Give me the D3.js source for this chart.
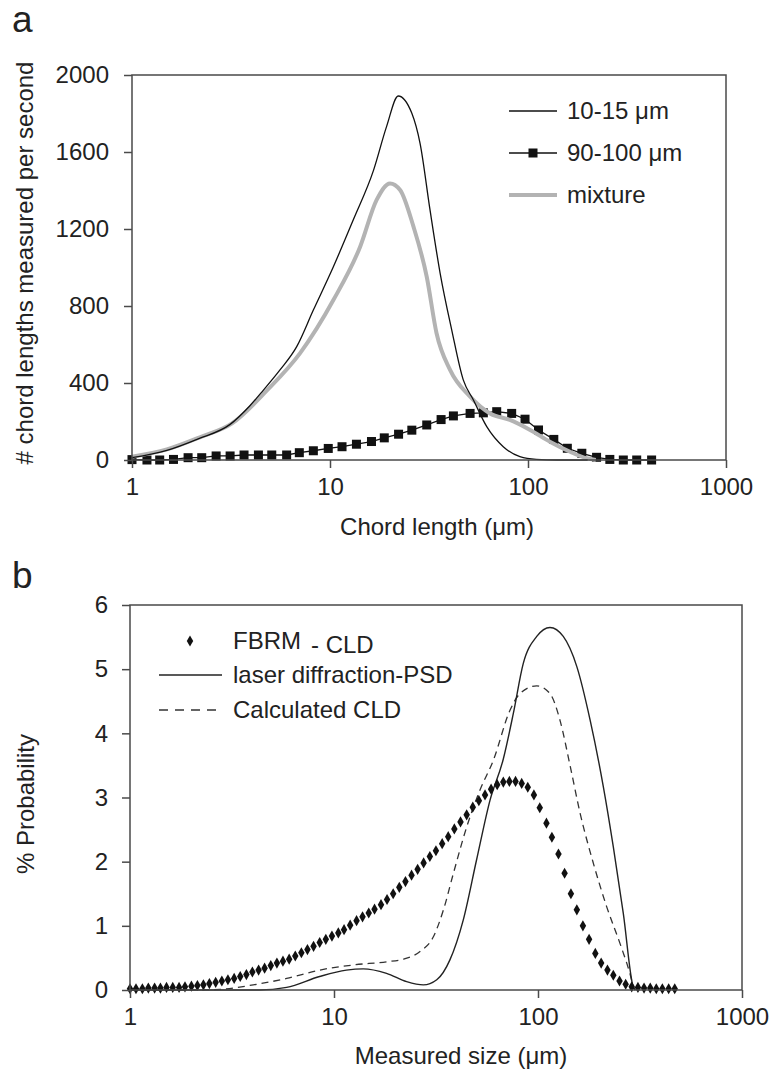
<!DOCTYPE html>
<html>
<head>
<meta charset="utf-8">
<script src="https://cdn.jsdelivr.net/npm/d3@7"></script>
<style>
  html, body { margin: 0; padding: 0; background: #fff; }
  svg { display: block; }
  text { font-family: "Liberation Sans", Arial, sans-serif; fill: #222; }
</style>
</head>
<body>
<svg id="chart" width="771" height="1070"></svg>
<script>
// ---------- Panel a data ----------
const xTicks = [1, 10, 100, 1000];
const aYTicks = [0, 400, 800, 1200, 1600, 2000];
const bYTicks = [0, 1, 2, 3, 4, 5, 6];

// 10-15 µm (thin black line)
const a1015X = [1.0, 1.5, 2.16, 3.13, 3.94, 4.6, 5.59, 6.79, 8.24, 10.4, 13.1, 16.6, 19.3, 22.1, 25.9, 28.5, 32, 36, 41.2, 47.1, 53, 61.9, 75, 91, 110, 140, 200];
const a1015Y = [12, 50, 110, 185, 282, 362, 468, 589, 779, 1004, 1247, 1506, 1732, 1891, 1801, 1645, 1299, 970, 675, 416, 312, 173, 69, 17, 3, 0, 0];

// 90-100 µm (squares)
const a90100X = [1.0, 1.19, 1.38, 1.62, 1.92, 2.25, 2.66, 3.13, 3.68, 4.35, 5.08, 6.04, 7.0, 8.24, 9.8, 11.5, 13.6, 16.2, 18.8, 22.2, 25.9, 30.8, 36.4, 42, 51, 59.5, 69.5, 82.7, 96.6, 113, 135, 158, 187, 222, 259, 303, 354, 421];
const a90100Y = [2, 0, 0, 3, 12, 12, 21, 21, 26, 26, 26, 26, 38, 48, 60, 69, 82, 96, 115, 134, 155, 182, 210, 229, 242, 245, 251, 242, 212, 156, 107, 61, 35, 14, 3, 0, 0, 0];

// mixture (thick grey line)
const aMixX = [1.0, 1.5, 2.2, 3.2, 4.79, 7.05, 10.4, 14.2, 17.2, 20.1, 22.6, 26.4, 30.8, 34.5, 40.4, 51, 64.3, 81, 102.5, 129, 163, 198, 220];
const aMixY = [17, 55, 118, 190, 360, 554, 831, 1108, 1351, 1437, 1403, 1212, 952, 660, 468, 329, 242, 208, 156, 95, 43, 9, 0];

// ---------- Panel b data ----------
// FBRM - CLD (diamonds)
const bFbrmX = [1.00, 1.07, 1.15, 1.23, 1.32, 1.41, 1.51, 1.62, 1.74, 1.86,
  2.00, 2.14, 2.29, 2.45, 2.63, 2.82, 3.02, 3.24, 3.47, 3.72,
  3.98, 4.27, 4.57, 4.90, 5.25, 5.62, 6.03, 6.46, 6.92, 7.41,
  7.94, 8.51, 9.12, 9.77, 10.5, 11.2, 12.0, 12.9, 13.8, 14.8,
  15.8, 17.0, 18.2, 19.5, 20.9, 22.4, 24.0, 25.7, 27.5, 29.5,
  31.6, 33.9, 36.3, 38.9, 41.7, 44.7, 47.9, 51.3, 55.0, 58.9,
  63.1, 67.6, 72.4, 77.6, 83.2, 89.1, 95.5, 102, 110, 117,
  126, 135, 145, 155, 166, 178, 191, 204, 219, 234,
  251, 269, 288, 309, 331, 355, 380, 407, 437, 468];
const bFbrmY = [0.02, 0.02, 0.02, 0.03, 0.03, 0.03, 0.04, 0.04, 0.04, 0.05,
  0.06, 0.07, 0.08, 0.10, 0.12, 0.14, 0.16, 0.18, 0.21, 0.24,
  0.28, 0.31, 0.34, 0.38, 0.42, 0.45, 0.48, 0.53, 0.58, 0.63,
  0.68, 0.74, 0.79, 0.84, 0.89, 0.94, 1.01, 1.08, 1.14, 1.20,
  1.26, 1.33, 1.41, 1.50, 1.60, 1.69, 1.79, 1.88, 1.98, 2.08,
  2.17, 2.28, 2.39, 2.51, 2.62, 2.73, 2.85, 2.95, 3.04, 3.13,
  3.20, 3.24, 3.25, 3.25, 3.22, 3.16, 3.04, 2.84, 2.60, 2.38,
  2.12, 1.82, 1.50, 1.25, 1.00, 0.79, 0.57, 0.42, 0.31, 0.23,
  0.14, 0.09, 0.05, 0.04, 0.03, 0.03, 0.02, 0.02, 0.02, 0.02];

// laser diffraction-PSD (solid line)
const bPsdX = [1, 2, 3, 4.3, 5.86, 8.5, 11.5, 13.9, 18.1, 22.7, 27.4, 31.9, 37, 43, 50, 58.2, 67.6, 75.7, 84.7, 98.6, 114.5, 133, 155, 180, 209, 234, 262, 293, 300];
const bPsdY = [0, 0, 0, 0.0, 0.04, 0.21, 0.31, 0.33, 0.26, 0.13, 0.08, 0.16, 0.47, 1.09, 2.03, 2.96, 3.6, 4.31, 5.09, 5.51, 5.65, 5.51, 5.04, 4.21, 3.17, 2.23, 1.19, 0.05, 0];

// Calculated CLD (dashed line)
const bCalcX = [1, 1.8, 2.76, 4.02, 5.86, 8.5, 12.4, 18.1, 21.9, 26.4, 30.7, 34.4, 38.5, 44.7, 52, 60.4, 72.9, 81.6, 98.6, 114.5, 128, 144, 161, 187, 217, 252, 282, 295, 300];
const bCalcY = [0, 0.0, 0.01, 0.08, 0.18, 0.31, 0.39, 0.44, 0.48, 0.60, 0.83, 1.25, 1.82, 2.54, 3.12, 3.58, 4.36, 4.62, 4.74, 4.62, 4.21, 3.48, 2.75, 1.97, 1.30, 0.73, 0.26, 0.03, 0];

// ---------- drawing ----------
const svg = d3.select("#chart");
const FONT = 24;
const FRAME = "#4a4a4a";

function zip(xs, ys) { return xs.map((x, i) => ({ x: x, y: ys[i] })); }

function drawFrame(g, x, y, yTicks, fmt, yPad) {
  const [x0, x1] = x.range();
  const [y0, y1] = y.range();
  const xa = g.append("g").attr("transform", `translate(0,${y0})`)
    .call(d3.axisBottom(x).tickValues(xTicks).tickFormat(d3.format("d")).tickSize(8).tickPadding(10));
  const ya = g.append("g").attr("transform", `translate(${x0},0)`)
    .call(d3.axisLeft(y).tickValues(yTicks).tickFormat(fmt).tickSize(8).tickPadding(yPad));
  [xa, ya].forEach(a => {
    a.select(".domain").remove();
    a.selectAll("line").attr("stroke", FRAME).attr("stroke-width", 1.5);
    a.selectAll("text").attr("font-size", FONT).attr("fill", "#222")
      .attr("font-family", '"Liberation Sans", Arial, sans-serif');
  });
  g.append("rect").attr("x", x0).attr("y", y1).attr("width", x1 - x0).attr("height", y0 - y1)
    .attr("fill", "none").attr("stroke", FRAME).attr("stroke-width", 1.5);
}

// ===== Panel a =====
const ax = d3.scaleLog().domain([1, 1000]).range([132, 726]);
const ay = d3.scaleLinear().domain([0, 2000]).range([460, 75]);
const ga = svg.append("g");

const lineA = d3.line().x(d => ax(d.x)).y(d => ay(d.y)).curve(d3.curveMonotoneX);

// squares series line
ga.append("path").datum(zip(a90100X, a90100Y)).attr("d", lineA.curve(d3.curveLinear))
  .attr("fill", "none").attr("stroke", "#111").attr("stroke-width", 1.3);
ga.selectAll("rect.sq").data(zip(a90100X, a90100Y)).enter().append("rect")
  .attr("class", "sq")
  .attr("x", d => ax(d.x) - 4.5).attr("y", d => ay(d.y) - 4.5)
  .attr("width", 9).attr("height", 9).attr("fill", "#111");

// mixture grey thick
ga.append("path").datum(zip(aMixX, aMixY)).attr("d", lineA.curve(d3.curveMonotoneX))
  .attr("fill", "none").attr("stroke", "#b3b3b3").attr("stroke-width", 4).attr("stroke-linejoin", "round");

// 10-15 black thin
ga.append("path").datum(zip(a1015X, a1015Y)).attr("d", lineA.curve(d3.curveMonotoneX))
  .attr("fill", "none").attr("stroke", "#111").attr("stroke-width", 1.3);

drawFrame(ga, ax, ay, aYTicks, d3.format("d"), 15);

// legend a
const legA = ga.append("g");
legA.append("line").attr("x1", 509).attr("x2", 557).attr("y1", 111).attr("y2", 111).attr("stroke", "#111").attr("stroke-width", 1.3);
legA.append("text").attr("x", 567).attr("y", 111).attr("dy", "0.35em").attr("font-size", FONT).text("10-15 μm");
legA.append("line").attr("x1", 509).attr("x2", 557).attr("y1", 153).attr("y2", 153).attr("stroke", "#111").attr("stroke-width", 1.3);
legA.append("rect").attr("x", 528.5).attr("y", 148.5).attr("width", 9).attr("height", 9).attr("fill", "#111");
legA.append("text").attr("x", 567).attr("y", 153).attr("dy", "0.35em").attr("font-size", FONT).text("90-100 μm");
legA.append("line").attr("x1", 509).attr("x2", 557).attr("y1", 195).attr("y2", 195).attr("stroke", "#b3b3b3").attr("stroke-width", 4);
legA.append("text").attr("x", 567).attr("y", 195).attr("dy", "0.35em").attr("font-size", FONT).text("mixture");

// titles a
svg.append("text").attr("x", 437).attr("y", 527).attr("dy", "0.35em").attr("text-anchor", "middle")
  .attr("font-size", FONT).text("Chord length (μm)");
svg.append("text").attr("transform", "translate(25,263) rotate(-90)").attr("dy", "0.35em")
  .attr("text-anchor", "middle").attr("font-size", FONT).text("# chord lengths measured per second");
svg.append("text").attr("x", 12).attr("y", 32).attr("font-size", 37).text("a");

// ===== Panel b =====
const bx = d3.scaleLog().domain([1, 1000]).range([130, 742]);
const by = d3.scaleLinear().domain([0, 6]).range([990, 605]);
const gb = svg.append("g");
const lineB = d3.line().x(d => bx(d.x)).y(d => by(d.y)).curve(d3.curveMonotoneX);

gb.append("path").datum(zip(bCalcX, bCalcY)).attr("d", lineB)
  .attr("fill", "none").attr("stroke", "#333").attr("stroke-width", 1.3).attr("stroke-dasharray", "7,5");
gb.append("path").datum(zip(bPsdX, bPsdY)).attr("d", lineB)
  .attr("fill", "none").attr("stroke", "#222").attr("stroke-width", 1.4);

const diamond = d3.symbol().type(d3.symbolDiamond).size(36);
gb.selectAll("path.dm").data(zip(bFbrmX, bFbrmY)).enter().append("path")
  .attr("class", "dm").attr("d", diamond)
  .attr("transform", d => `translate(${bx(d.x)},${by(d.y)})`).attr("fill", "#111");

drawFrame(gb, bx, by, bYTicks, d3.format("d"), 14);

// legend b
const legB = gb.append("g");
legB.append("path").attr("d", diamond).attr("transform", "translate(190,641)").attr("fill", "#111");
legB.append("text").attr("x", 233).attr("y", 641).attr("dy", "0.35em").attr("font-size", FONT).text("FBRM");
legB.append("text").attr("x", 311).attr("y", 645).attr("dy", "0.35em").attr("font-size", FONT).text("- CLD");
legB.append("line").attr("x1", 159).attr("x2", 222).attr("y1", 675).attr("y2", 675).attr("stroke", "#222").attr("stroke-width", 1.4);
legB.append("text").attr("x", 233).attr("y", 675).attr("dy", "0.35em").attr("font-size", FONT).text("laser diffraction-PSD");
legB.append("line").attr("x1", 159).attr("x2", 220).attr("y1", 710).attr("y2", 710).attr("stroke", "#333").attr("stroke-width", 1.3).attr("stroke-dasharray", "9,7");
legB.append("text").attr("x", 233).attr("y", 710).attr("dy", "0.35em").attr("font-size", FONT).text("Calculated CLD");

svg.append("text").attr("x", 461).attr("y", 1056).attr("dy", "0.35em").attr("text-anchor", "middle")
  .attr("font-size", FONT).text("Measured size (μm)");
svg.append("text").attr("transform", "translate(26,804) rotate(-90)").attr("dy", "0.35em")
  .attr("text-anchor", "middle").attr("font-size", FONT).text("% Probability");
svg.append("text").attr("x", 12).attr("y", 588).attr("font-size", 37).text("b");
</script>
</body>
</html>
